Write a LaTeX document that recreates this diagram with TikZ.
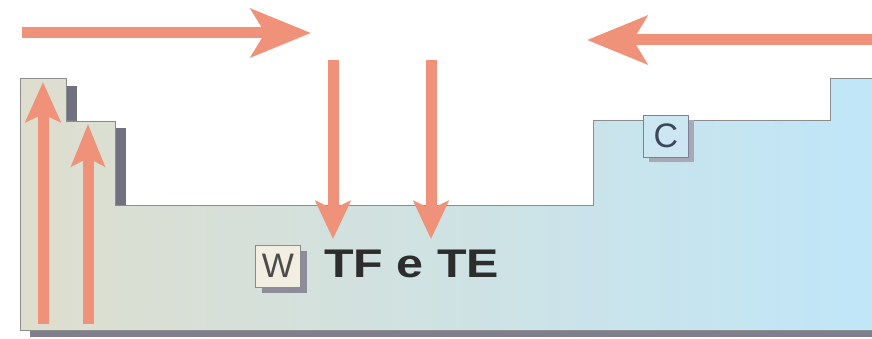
\documentclass[tikz,border=0pt]{standalone}
\usepackage{fontspec}
\setmainfont{Liberation Sans}
\usetikzlibrary{arrows.meta}
\definecolor{salmon}{RGB}{240,146,122}
\definecolor{beige}{RGB}{222,222,206}
\definecolor{skyb}{RGB}{192,230,248}
\definecolor{shadowc}{RGB}{112,112,128}
\definecolor{edge}{RGB}{140,140,140}
\definecolor{cream}{RGB}{243,238,226}
\definecolor{cbox}{RGB}{204,230,242}
\definecolor{txt}{RGB}{45,45,45}
\definecolor{ctxt}{RGB}{60,72,88}
\tikzset{
  flow/.style={draw=salmon, line width=11pt},
  bighead/.style={-{Stealth[length=60pt,width=48pt,inset=14pt]}},
  vhead/.style={-{Stealth[length=38pt,width=35pt,inset=8pt]}},
  tag/.style={draw=edge, line width=0.8pt, minimum width=45pt, minimum height=42pt, inner sep=0pt, font=\fontsize{34}{34}\selectfont},
  tagshadow/.style={fill=shadowc!80, minimum width=45pt, minimum height=42pt, inner sep=0pt},
}
\begin{document}
\begin{tikzpicture}[x=1pt,y=-1pt]
\useasboundingbox (0,0) rectangle (872,339);
% shadows
\fill[shadowc] (66,86) rectangle (77,122);
\fill[shadowc] (115,128) rectangle (126,206);
\fill[shadowc!90] (30,330) rectangle (872,337);
% body with gradient
\shade[left color=beige, right color=skyb, draw=edge, line width=0.9pt]
  (20,78) -- (66,78) -- (66,121) -- (115,121) -- (115,205) -- (593,205)
  -- (593,120) -- (830,120) -- (830,78) -- (873,78) -- (873,330) -- (20,330) -- cycle;
% tags
\node[tagshadow] at (284,272) {};
\node[tag, fill=cream, text=txt!85] (w) at (278,266) {W};
\node[tagshadow, fill=shadowc!60] at (671,141) {};
\node[tag, fill=cbox, draw=edge!90!blue, text=ctxt] (c) at (666,136) {C};
% label
\node[font=\bfseries\fontsize{40}{40}\selectfont, text=txt, anchor=west, inner sep=0pt] (lbl) at (324,264) {\scalebox{1.21}[1]{TF e TE}};
% arrows
\coordinate (a1s) at (22,33); \coordinate (a1e) at (311,33);
\coordinate (a2s) at (873,40); \coordinate (a2e) at (587,40);
\draw[flow, bighead] (a1s) -- (a1e);
\draw[flow, bighead] (a2s) -- (a2e);
\coordinate (d1s) at (333,60); \coordinate (d1e) at (333,239);
\coordinate (d2s) at (431,60); \coordinate (d2e) at (431,239);
\draw[flow, vhead] (d1s) -- (d1e);
\draw[flow, vhead] (d2s) -- (d2e);
\coordinate (u1s) at (43,324); \coordinate (u1e) at (43,82);
\coordinate (u2s) at (88,324); \coordinate (u2e) at (88,124);
\draw[flow, -{Stealth[length=40pt,width=35pt,inset=8pt]}] (u1s) -- (u1e);
\draw[flow, -{Stealth[length=42pt,width=33pt,inset=8pt]}] (u2s) -- (u2e);
\end{tikzpicture}
\end{document}
